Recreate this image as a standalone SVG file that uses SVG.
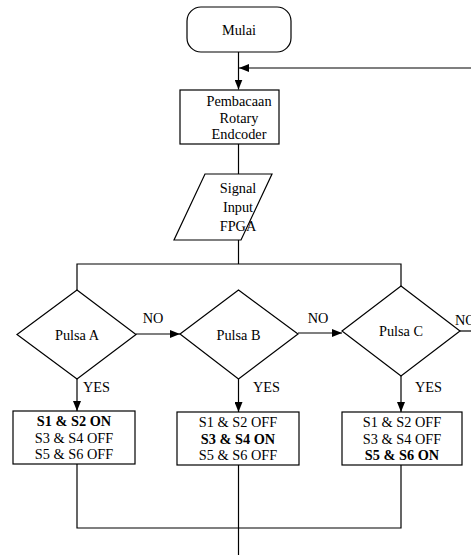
<svg xmlns="http://www.w3.org/2000/svg" width="471" height="555" viewBox="0 0 471 555">
<style>
.s{fill:#fff;stroke:#000;stroke-width:1.2}
.l{fill:none;stroke:#000;stroke-width:1.2}
text{font-family:"Liberation Serif","Times New Roman",serif;font-size:14.3px;fill:#000;text-anchor:middle;dominant-baseline:central}
.b{font-weight:bold}
.st{text-anchor:start}
</style>
<defs>
<marker id="ah" viewBox="0 0 10 8" refX="10" refY="4" markerWidth="10" markerHeight="8" markerUnits="userSpaceOnUse" orient="auto">
<path d="M0,0 L10,4 L0,8 Z" fill="#000"/>
</marker>
</defs>
<g id="connectors">
<path class="l" d="M238.5,52 V89.5" marker-end="url(#ah)"/>
<path class="l" d="M471,68 H239" marker-end="url(#ah)"/>
<path class="l" d="M238.5,144 V174"/>
<path class="l" d="M238.5,240 V264"/>
<path class="l" d="M77,290 V264 H401 V286"/>
<path class="l" d="M136,334 H180" marker-end="url(#ah)"/>
<path class="l" d="M298,333 H342" marker-end="url(#ah)"/>
<path class="l" d="M460,331 H471"/>
<path class="l" d="M77,379 V411" marker-end="url(#ah)"/>
<path class="l" d="M238.5,379 V412" marker-end="url(#ah)"/>
<path class="l" d="M401,376 V412" marker-end="url(#ah)"/>
<path class="l" d="M77,464 V528 H401 V465"/>
<path class="l" d="M238.5,465 V555"/>
<text x="153" y="318">NO</text>
<text x="318" y="318">NO</text>
<text x="455" y="320" class="st">NO</text>
<text x="83" y="387" class="st">YES</text>
<text x="253" y="387" class="st">YES</text>
<text x="415" y="387" class="st">YES</text>
</g>
<g id="mulai">
<rect class="s" x="187" y="7" width="104" height="45" rx="14"/>
<text x="239" y="30">Mulai</text>
</g>
<g id="pembacaan">
<rect class="s" x="180" y="90" width="99" height="54"/>
<text x="239" y="101">Pembacaan</text>
<text x="239" y="117.5">Rotary</text>
<text x="239" y="134">Endcoder</text>
</g>
<g id="signal">
<polygon class="s" points="205,174 272,174 241,240 174,240"/>
<text x="238" y="188">Signal</text>
<text x="238" y="207">Input</text>
<text x="238" y="226">FPGA</text>
</g>
<g id="pulsaA">
<polygon class="s" points="77,290 136,334.5 77,379 17,334.5"/>
<text x="77" y="335">Pulsa A</text>
</g>
<g id="pulsaB">
<polygon class="s" points="238.5,290 298,334 238.5,379 180,334"/>
<text x="238.5" y="335">Pulsa B</text>
</g>
<g id="pulsaC">
<polygon class="s" points="401,286 460,331 401,376 342,331"/>
<text x="401" y="331">Pulsa C</text>
</g>
<g id="boxA">
<rect class="s" x="13" y="411" width="122" height="53"/>
<text x="74" y="421" class="b">S1 &amp; S2 ON</text>
<text x="74" y="438">S3 &amp; S4 OFF</text>
<text x="74" y="454">S5 &amp; S6 OFF</text>
</g>
<g id="boxB">
<rect class="s" x="177" y="412" width="122" height="53"/>
<text x="238" y="422">S1 &amp; S2 OFF</text>
<text x="238" y="439" class="b">S3 &amp; S4 ON</text>
<text x="238" y="455">S5 &amp; S6 OFF</text>
</g>
<g id="boxC">
<rect class="s" x="342" y="412" width="120" height="53"/>
<text x="402" y="422">S1 &amp; S2 OFF</text>
<text x="402" y="439">S3 &amp; S4 OFF</text>
<text x="402" y="455" class="b">S5 &amp; S6 ON</text>
</g>
</svg>
